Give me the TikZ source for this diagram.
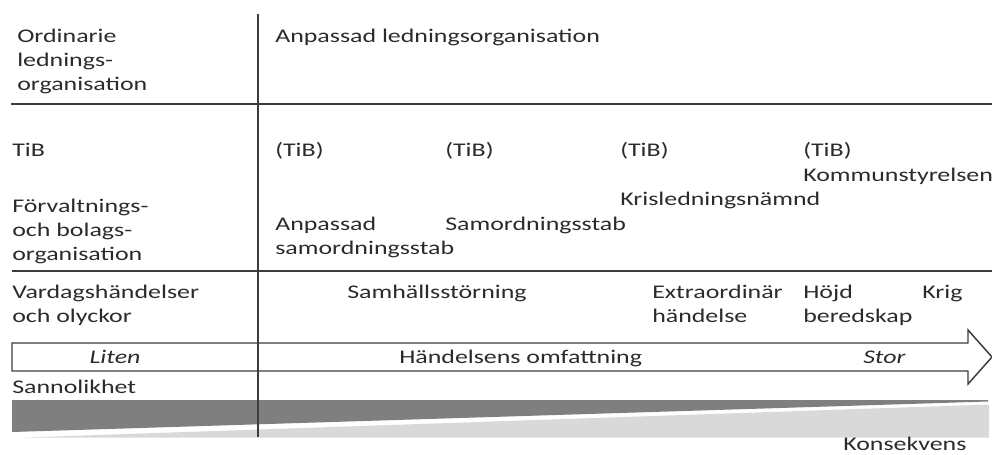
\documentclass[tikz,border=0pt]{standalone}
\usepackage{fontspec}
\setmainfont{Carlito}[FakeStretch=1.34]
\usetikzlibrary{calc}
\definecolor{ink}{HTML}{2B2B2B}
\definecolor{rulegray}{HTML}{3C3C3C}
\definecolor{darkwedge}{HTML}{7F7F7F}
\definecolor{lightwedge}{HTML}{D9D9D9}
\tikzstyle{txt} = [anchor=base west, inner sep=0pt, align=left, text=ink, font=\fontsize{14.5}{18}\selectfont]
\tikzstyle{rule} = [draw=rulegray, line width=1.1pt]
\tikzstyle{wedge} = [draw=none]

\begin{document}
\begin{tikzpicture}[x=0.75pt, y=-0.75pt]
        \useasboundingbox (0,0) rectangle (992,454);
        % sannolikhet / konsekvens
        \fill[wedge, darkwedge] (12,400) -- (988,400) -- (988,401.5) -- (12,432) -- cycle;
        \fill[wedge, lightwedge] (25,437.5) -- (989,404.5) -- (989,437.5) -- cycle;
        % grid
        \draw[rule] (258,14) -- (258,437);
        \draw[rule] (11,104) -- (992,104);
        \draw[rule] (12,271) -- (992,271);
        % scale arrow
        \draw[rule, line join=miter, fill=white] (12,343) -- (968,343) -- (968,330) -- (992,357) -- (968,384) -- (968,371) -- (12,371) -- cycle;
        \draw[rule] (258,343) -- (258,371);
        % left column (multi-line nodes sit on their last line)
        \node[txt] (ord) at (17,90) {Ordinarie\\lednings-\\organisation};
        \node[txt] (tib) at (12,156) {TiB};
        \node[txt] (forv) at (12,260) {Förvaltnings-\\och bolags-\\organisation};
        \node[txt] (vard) at (12,322) {Vardagshändelser\\och olyckor};
        \node[txt] (sann) at (12,393) {Sannolikhet};
        % right part
        \node[txt] (anp) at (275,42) {Anpassad ledningsorganisation};
        \foreach \x/\n in {275/1, 445/2, 620/3, 803/4}
            \node[txt] (tib\n) at (\x,156) {(TiB)};
        \node[txt] (ks) at (803,181) {Kommunstyrelsen};
        \node[txt] (krisn) at (620,205) {Krisledningsnämnd};
        \node[txt] (samstab) at (445,230) {Samordningsstab};
        \node[txt] (anpstab) at (275,254) {Anpassad\\samordningsstab};
        \node[txt] (samh) at (347,298) {Samhällsstörning};
        \node[txt] (extra) at (652,322) {Extraordinär\\händelse};
        \node[txt] (hojd) at (803,322) {Höjd\\beredskap};
        \node[txt] (krig) at (922,298) {Krig};
        % on the arrow
        \node[txt, anchor=base, font=\fontsize{14.5}{18}\selectfont\itshape] (liten) at (115,363) {Liten};
        \node[txt] (omf) at (399,363) {Händelsens omfattning};
        \node[txt, font=\fontsize{14.5}{18}\selectfont\itshape] (stor) at (863,363) {Stor};
        \node[txt] (kons) at (843,450) {Konsekvens};
    \end{tikzpicture}
\end{document}
